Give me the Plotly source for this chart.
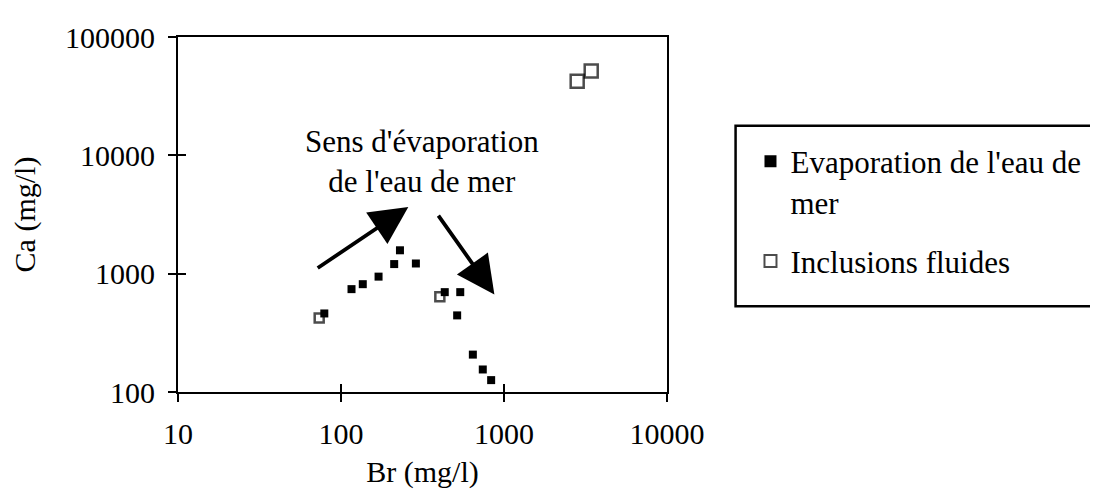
import plotly.graph_objects as go

# ---- data ----
evap_br = [79, 116, 136, 170, 212, 230, 288, 433, 539, 516, 644, 741, 834]
evap_ca = [461, 740, 815, 944, 1205, 1576, 1219, 698, 698, 444, 207, 155, 126]

incl_br = [73.5, 404, 2812, 3428]
incl_ca = [422, 637, 42300, 51500]

x_tickvals = [10, 100, 1000, 10000]
x_ticktext = ["10", "100", "1000", "10000"]
y_tickvals = [100, 1000, 10000, 100000]
y_ticktext = ["100", "1000", "10000", "100000"]

FONT = "Liberation Serif"

# the page body has an 8px margin; the figure is shifted by it
OFF = 8
# plot box in (window) pixels
L, R, T, B = 175, 667, 32, 392
W, H = 1098, 494

def px2paper_x(px):
    return (px - L) / (R - L)

def px2paper_y(py):
    return (B - py) / (B - T)

fig = go.Figure()

fig.add_trace(go.Scatter(
    x=incl_br, y=incl_ca, mode="markers", name="Inclusions fluides",
    marker=dict(symbol="square-open", size=[9, 9, 13, 13], color="black",
                line=dict(width=2.5, color="black")),
    legendgroup="b", legendrank=2,
))
fig.add_trace(go.Scatter(
    x=evap_br, y=evap_ca, mode="markers", name="Evaporation de l'eau de<br>mer",
    marker=dict(symbol="square", size=8, color="black"),
    legendgroup="a", legendrank=1,
))
# dummy trace to activate overlay axes (inside ticks -> crossing ticks)
fig.add_trace(go.Scatter(x=[None], y=[None], xaxis="x2", yaxis="y2",
                         showlegend=False, hoverinfo="skip"))

axis_common = dict(type="log", showgrid=False, zeroline=False,
                   tickfont=dict(family=FONT, size=30, color="black"),
                   linecolor="black", linewidth=2, ticks="outside",
                   ticklen=8, tickwidth=2, tickcolor="black")

fig.update_layout(
    width=W, height=H,
    margin=dict(l=L - OFF, r=W - R + OFF, t=T - OFF, b=H - B + OFF),
    paper_bgcolor="white", plot_bgcolor="white",
    font=dict(family=FONT, size=30, color="black"),
    xaxis=dict(axis_common, range=[1, 4], tickvals=x_tickvals, ticktext=x_ticktext,
               showline=True, mirror=True, ticklabelstandoff=6,
               title=dict(text="Br (mg/l)", font=dict(family=FONT, size=30), standoff=12)),
    yaxis=dict(axis_common, range=[2, 5], tickvals=y_tickvals, ticktext=y_ticktext,
               showline=True, mirror=True, ticklabelstandoff=7,
               title=dict(text="Ca (mg/l)", font=dict(family=FONT, size=30), standoff=24)),
    xaxis2=dict(type="log", range=[1, 4], overlaying="x", anchor="y", side="bottom",
                tickvals=x_tickvals, showticklabels=False, showgrid=False, zeroline=False,
                showline=False, ticks="inside", ticklen=8, tickwidth=2, tickcolor="black"),
    yaxis2=dict(type="log", range=[2, 5], overlaying="y", anchor="x", side="left",
                tickvals=y_tickvals, showticklabels=False, showgrid=False, zeroline=False,
                showline=False, ticks="inside", ticklen=8, tickwidth=2, tickcolor="black"),
    legend=dict(x=px2paper_x(751), y=px2paper_y(131), xanchor="left", yanchor="top",
                bgcolor="rgba(0,0,0,0)", borderwidth=0, valign="top",
                tracegroupgap=16, itemsizing="constant",
                font=dict(family=FONT, size=31, color="black")),
    showlegend=True,
)

# legend frame (extends beyond right edge as in the reference)
fig.add_shape(type="rect", xref="paper", yref="paper",
              x0=px2paper_x(736), x1=px2paper_x(1120),
              y0=px2paper_y(305), y1=px2paper_y(122),
              line=dict(color="black", width=2.5), fillcolor="rgba(0,0,0,0)", layer="above")

# annotation text
fig.add_annotation(x=2.494, y=3.95, xref="x", yref="y",
                   text="Sens d'évaporation<br>de l'eau de mer", showarrow=False,
                   font=dict(family=FONT, size=31, color="black"), align="center")

# arrows (log10 coordinates for log axes)
arrow_common = dict(xref="x", yref="y", axref="x", ayref="y", text="", showarrow=True,
                    arrowhead=2, arrowsize=2.0, arrowwidth=3.8, arrowcolor="black",
                    standoff=0, startstandoff=0)
fig.add_annotation(x=2.413, y=3.564, ax=1.848, ay=3.039, **arrow_common)
fig.add_annotation(x=2.941, y=2.823, ax=2.591, ay=3.503, **arrow_common)

fig.write_html("out.html")
